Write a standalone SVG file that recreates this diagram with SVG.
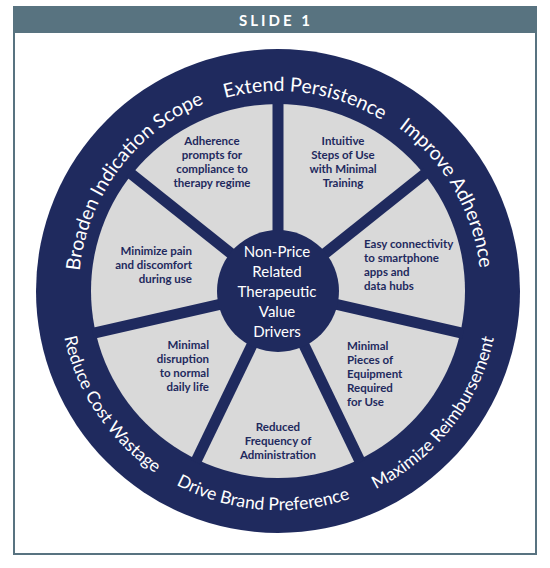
<svg xmlns="http://www.w3.org/2000/svg" xmlns:xlink="http://www.w3.org/1999/xlink" width="550" height="568" viewBox="0 0 550 568">
<style>
.ring{font-family:Lato,"Liberation Sans",sans-serif;font-size:19.5px;fill:#ffffff;}
.ringb{font-family:Lato,"Liberation Sans",sans-serif;font-size:17.5px;fill:#ffffff;}
.seg{font-family:Lato,"Liberation Sans",sans-serif;font-size:11.5px;font-weight:bold;fill:#1f2a5e;}
.ctr{font-family:Lato,"Liberation Sans",sans-serif;font-size:15px;fill:#ffffff;}
.spoke{stroke:#1f2a5e;stroke-width:11;}
</style>
<defs>
<path id="pBroaden" d="M 93.9 369.1 A 203 203 0 0 1 302.4 89.5"/>
<path id="pExtend" d="M 120.4 167.9 A 200 200 0 0 1 463.4 216.1"/>
<path id="pImprove" d="M 278 88 A 203 203 0 0 1 453.8 392.5"/>
<path id="pReduce" d="M 81.2 195 A 221 221 0 0 0 293.4 511.5"/>
<path id="pDrive" d="M 80.5 386.2 A 221 221 0 0 0 460.1 416.2"/>
<path id="pMax" d="M 247.2 509.8 A 221 221 0 0 0 482.9 208.2"/>
</defs>
<rect x="14" y="7" width="522" height="547" fill="#ffffff" stroke="#587380" stroke-width="2"/>
<rect x="14" y="7" width="522" height="26" fill="#587380"/>
<text x="276" y="26" text-anchor="middle" font-family="Lato,'Liberation Sans',sans-serif" font-size="15" font-weight="bold" letter-spacing="3" fill="#ffffff">SLIDE 1</text>
<g id="wheel">
<circle cx="278" cy="291" r="242" fill="#1f2a5e"/>
<circle cx="278" cy="291" r="187" fill="#d9d9d9"/>
</g>
<g id="connectors">
<line class="spoke" x1="278" y1="291" x2="278" y2="100"/>
<line class="spoke" x1="278" y1="291" x2="426.5" y2="172.5"/>
<line class="spoke" x1="278" y1="291" x2="463.2" y2="333.3"/>
<line class="spoke" x1="278" y1="291" x2="360.4" y2="462.2"/>
<line class="spoke" x1="278" y1="291" x2="195.6" y2="462.2"/>
<line class="spoke" x1="278" y1="291" x2="92.8" y2="333.3"/>
<line class="spoke" x1="278" y1="291" x2="129.5" y2="172.5"/>
</g>
<g id="center">
<circle cx="278" cy="291" r="61" fill="#1f2a5e"/>
<text class="ctr" text-anchor="middle"><tspan x="277" y="257">Non-Price</tspan><tspan x="277" y="277">Related</tspan><tspan x="277" y="297">Therapeutic</tspan><tspan x="277" y="317">Value</tspan><tspan x="277" y="337">Drivers</tspan></text>
</g>
<g id="seg-adherence-prompts">
<text class="seg" text-anchor="middle"><tspan x="212" y="145">Adherence</tspan><tspan x="212" y="159">prompts for</tspan><tspan x="212" y="173">compliance to</tspan><tspan x="212" y="187">therapy regime</tspan></text>
</g>
<g id="seg-intuitive">
<text class="seg" text-anchor="middle"><tspan x="343" y="145">Intuitive</tspan><tspan x="343" y="159">Steps of Use</tspan><tspan x="343" y="173">with Minimal</tspan><tspan x="343" y="187">Training</tspan></text>
</g>
<g id="seg-connectivity">
<text class="seg"><tspan x="364" y="248">Easy connectivity</tspan><tspan x="364" y="262">to smartphone</tspan><tspan x="364" y="276">apps and</tspan><tspan x="364" y="290">data hubs</tspan></text>
</g>
<g id="seg-equipment">
<text class="seg"><tspan x="347" y="350">Minimal</tspan><tspan x="347" y="364">Pieces of</tspan><tspan x="347" y="378">Equipment</tspan><tspan x="347" y="392">Required</tspan><tspan x="347" y="406">for Use</tspan></text>
</g>
<g id="seg-frequency">
<text class="seg" text-anchor="middle"><tspan x="278" y="431">Reduced</tspan><tspan x="278" y="445">Frequency of</tspan><tspan x="278" y="459">Administration</tspan></text>
</g>
<g id="seg-disruption">
<text class="seg" text-anchor="end"><tspan x="209" y="349">Minimal</tspan><tspan x="209" y="363">disruption</tspan><tspan x="209" y="377">to normal</tspan><tspan x="209" y="391">daily life</tspan></text>
</g>
<g id="seg-pain">
<text class="seg" text-anchor="end"><tspan x="192" y="255">Minimize pain</tspan><tspan x="192" y="269">and discomfort</tspan><tspan x="192" y="283">during use</tspan></text>
</g>
<g id="ring-labels">
<text class="ring"><textPath xlink:href="#pBroaden" href="#pBroaden" startOffset="50%" text-anchor="middle">Broaden Indication Scope</textPath></text>
<text class="ring"><textPath xlink:href="#pExtend" href="#pExtend" startOffset="50%" text-anchor="middle">Extend Persistence</textPath></text>
<text class="ring"><textPath xlink:href="#pImprove" href="#pImprove" startOffset="50%" text-anchor="middle">Improve Adherence</textPath></text>
<text class="ringb"><textPath xlink:href="#pReduce" href="#pReduce" startOffset="50%" text-anchor="middle">Reduce Cost Wastage</textPath></text>
<text class="ringb"><textPath xlink:href="#pDrive" href="#pDrive" startOffset="50%" text-anchor="middle">Drive Brand Preference</textPath></text>
<text class="ringb"><textPath xlink:href="#pMax" href="#pMax" startOffset="50%" text-anchor="middle">Maximize Reimbursement</textPath></text>
</g>
</svg>
